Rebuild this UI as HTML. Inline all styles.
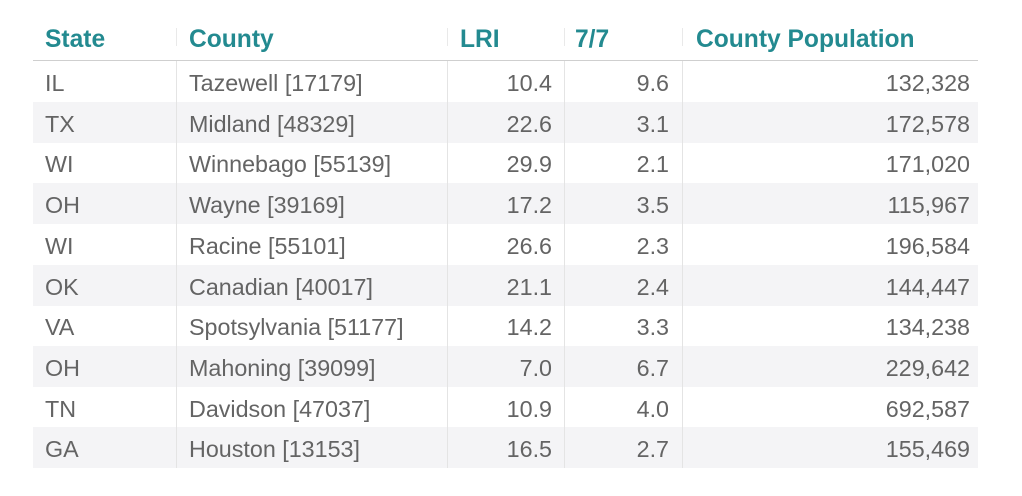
<!DOCTYPE html>
<html><head><meta charset="utf-8"><style>
html,body{margin:0;padding:0;background:#fff;}
body{width:1022px;height:496px;position:relative;overflow:hidden;font-family:"Liberation Sans",sans-serif;}
.h{position:absolute;top:25px;height:30px;line-height:30px;font-weight:bold;font-size:24.6px;color:#238a90;white-space:nowrap;}
.hl{position:absolute;left:33px;width:945px;top:60px;height:1px;background:#cfcfcf;}
.hs{position:absolute;top:28px;height:18px;width:1px;background:#e9e9e9;}
.row{position:absolute;left:33px;width:945px;height:41px;}
.row.s{background:#f4f4f6;}
.c{position:absolute;top:0;height:41px;line-height:41px;font-size:23.3px;color:#646464;white-space:nowrap;padding-top:2px;box-sizing:border-box;}
.vs{position:absolute;top:61px;height:407px;width:1px;background:#e4e4e4;}
.r{text-align:right;}
</style></head><body>
<div class="h" style="left:45px">State</div>
<div class="h" style="left:189px">County</div>
<div class="h" style="left:460px">LRI</div>
<div class="h" style="left:575px">7/7</div>
<div class="h" style="left:696px">County Population</div>
<div class="hs" style="left:176px"></div>
<div class="hs" style="left:447px"></div>
<div class="hs" style="left:564px"></div>
<div class="hs" style="left:682px"></div>
<div class="hl"></div>

<div class="row" style="top:61px"><div class="c" style="left:12px">IL</div><div class="c" style="left:156px">Tazewell [17179]</div><div class="c r" style="right:426px">10.4</div><div class="c r" style="right:309px">9.6</div><div class="c r" style="right:8px">132,328</div></div>
<div class="row s" style="top:101.7px"><div class="c" style="left:12px">TX</div><div class="c" style="left:156px">Midland [48329]</div><div class="c r" style="right:426px">22.6</div><div class="c r" style="right:309px">3.1</div><div class="c r" style="right:8px">172,578</div></div>
<div class="row" style="top:142.4px"><div class="c" style="left:12px">WI</div><div class="c" style="left:156px">Winnebago [55139]</div><div class="c r" style="right:426px">29.9</div><div class="c r" style="right:309px">2.1</div><div class="c r" style="right:8px">171,020</div></div>
<div class="row s" style="top:183.1px"><div class="c" style="left:12px">OH</div><div class="c" style="left:156px">Wayne [39169]</div><div class="c r" style="right:426px">17.2</div><div class="c r" style="right:309px">3.5</div><div class="c r" style="right:8px">115,967</div></div>
<div class="row" style="top:223.8px"><div class="c" style="left:12px">WI</div><div class="c" style="left:156px">Racine [55101]</div><div class="c r" style="right:426px">26.6</div><div class="c r" style="right:309px">2.3</div><div class="c r" style="right:8px">196,584</div></div>
<div class="row s" style="top:264.5px"><div class="c" style="left:12px">OK</div><div class="c" style="left:156px">Canadian [40017]</div><div class="c r" style="right:426px">21.1</div><div class="c r" style="right:309px">2.4</div><div class="c r" style="right:8px">144,447</div></div>
<div class="row" style="top:305.2px"><div class="c" style="left:12px">VA</div><div class="c" style="left:156px">Spotsylvania [51177]</div><div class="c r" style="right:426px">14.2</div><div class="c r" style="right:309px">3.3</div><div class="c r" style="right:8px">134,238</div></div>
<div class="row s" style="top:345.9px"><div class="c" style="left:12px">OH</div><div class="c" style="left:156px">Mahoning [39099]</div><div class="c r" style="right:426px">7.0</div><div class="c r" style="right:309px">6.7</div><div class="c r" style="right:8px">229,642</div></div>
<div class="row" style="top:386.6px"><div class="c" style="left:12px">TN</div><div class="c" style="left:156px">Davidson [47037]</div><div class="c r" style="right:426px">10.9</div><div class="c r" style="right:309px">4.0</div><div class="c r" style="right:8px">692,587</div></div>
<div class="row s" style="top:427.3px;height:40.7px"><div class="c" style="left:12px">GA</div><div class="c" style="left:156px">Houston [13153]</div><div class="c r" style="right:426px">16.5</div><div class="c r" style="right:309px">2.7</div><div class="c r" style="right:8px">155,469</div></div>

<div class="vs" style="left:176px"></div>
<div class="vs" style="left:447px"></div>
<div class="vs" style="left:564px"></div>
<div class="vs" style="left:682px"></div>
</body></html>
